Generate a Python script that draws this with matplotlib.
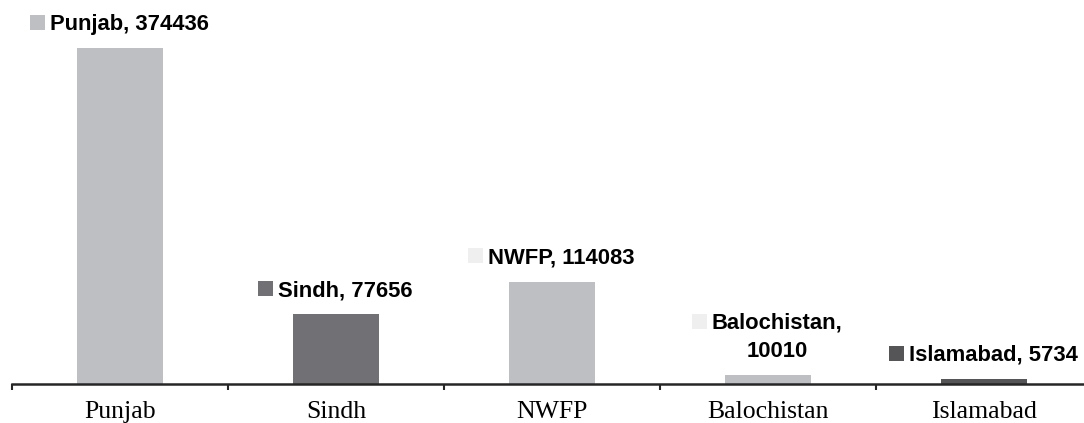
import matplotlib
matplotlib.use("Agg")
import matplotlib.pyplot as plt
from matplotlib.patches import Rectangle
from matplotlib.font_manager import FontProperties

# data
provinces = ["Punjab", "Sindh", "NWFP", "Balochistan", "Islamabad"]
values = [374436, 77656, 114083, 10010, 5734]
label_texts = ["Punjab, 374436", "Sindh, 77656", "NWFP, 114083",
               "Balochistan,\n10010", "Islamabad, 5734"]
bar_colors = ["#bebfc3", "#707075", "#bebfc3", "#bebfc3", "#555558"]
key_colors = ["#bebfc3", "#707075", "#efefef", "#efefef", "#555558"]

fig = plt.figure(figsize=(10.84, 4.23), dpi=100)
ax = fig.add_axes([12 / 1084, 39 / 423, 1080 / 1084, 384 / 423])

x = range(len(provinces))
ax.bar(x, values, width=0.4, color=bar_colors, zorder=2)

ax.set_xlim(-0.5, 4.5)
ax.set_ylim(0, 427500)
ax.set_yticks([])
for s in ["top", "right", "left"]:
    ax.spines[s].set_visible(False)
ax.spines["bottom"].set_linewidth(1.8)
ax.spines["bottom"].set_color("#262626")

# boundary ticks + centred labels
ax.set_xticks([i - 0.5 for i in range(6)])
ax.set_xticklabels([])
ax.tick_params(axis="x", which="major", direction="out", length=4,
               width=1.5, color="#262626")
ax.set_xticks(list(x), minor=True)
ax.set_xticklabels(provinces, minor=True, fontfamily="Liberation Serif",
                   fontsize=18.5)
ax.tick_params(axis="x", which="minor", length=0, pad=12.5)

# data labels
lbl_font = FontProperties(family="Liberation Sans", weight="bold", size=15.8)
texts = []
for i, (v, t) in enumerate(zip(values, label_texts)):
    tx = ax.annotate(t, xy=(i, v), xytext=(6.5, 9.4), textcoords="offset points",
                     ha="center", va="bottom", fontproperties=lbl_font,
                     multialignment="center", linespacing=1.45, color="black")
    texts.append(tx)

fig.canvas.draw()
renderer = fig.canvas.get_renderer()
w, h, d = renderer.get_text_width_height_descent("lp", lbl_font, ismath=False)
inv = fig.transFigure.inverted()
sq = 15
for tx, c in zip(texts, key_colors):
    bb = tx.get_window_extent(renderer)
    base = bb.y1 - (h - d)
    x0, y0 = inv.transform((bb.x0 - 5 - sq, base))
    x1, y1 = inv.transform((bb.x0 - 5, base + sq))
    fig.add_artist(Rectangle((x0, y0), x1 - x0, y1 - y0, transform=fig.transFigure,
                             facecolor=c, edgecolor="none"))

fig.savefig("out.png", dpi=100)
